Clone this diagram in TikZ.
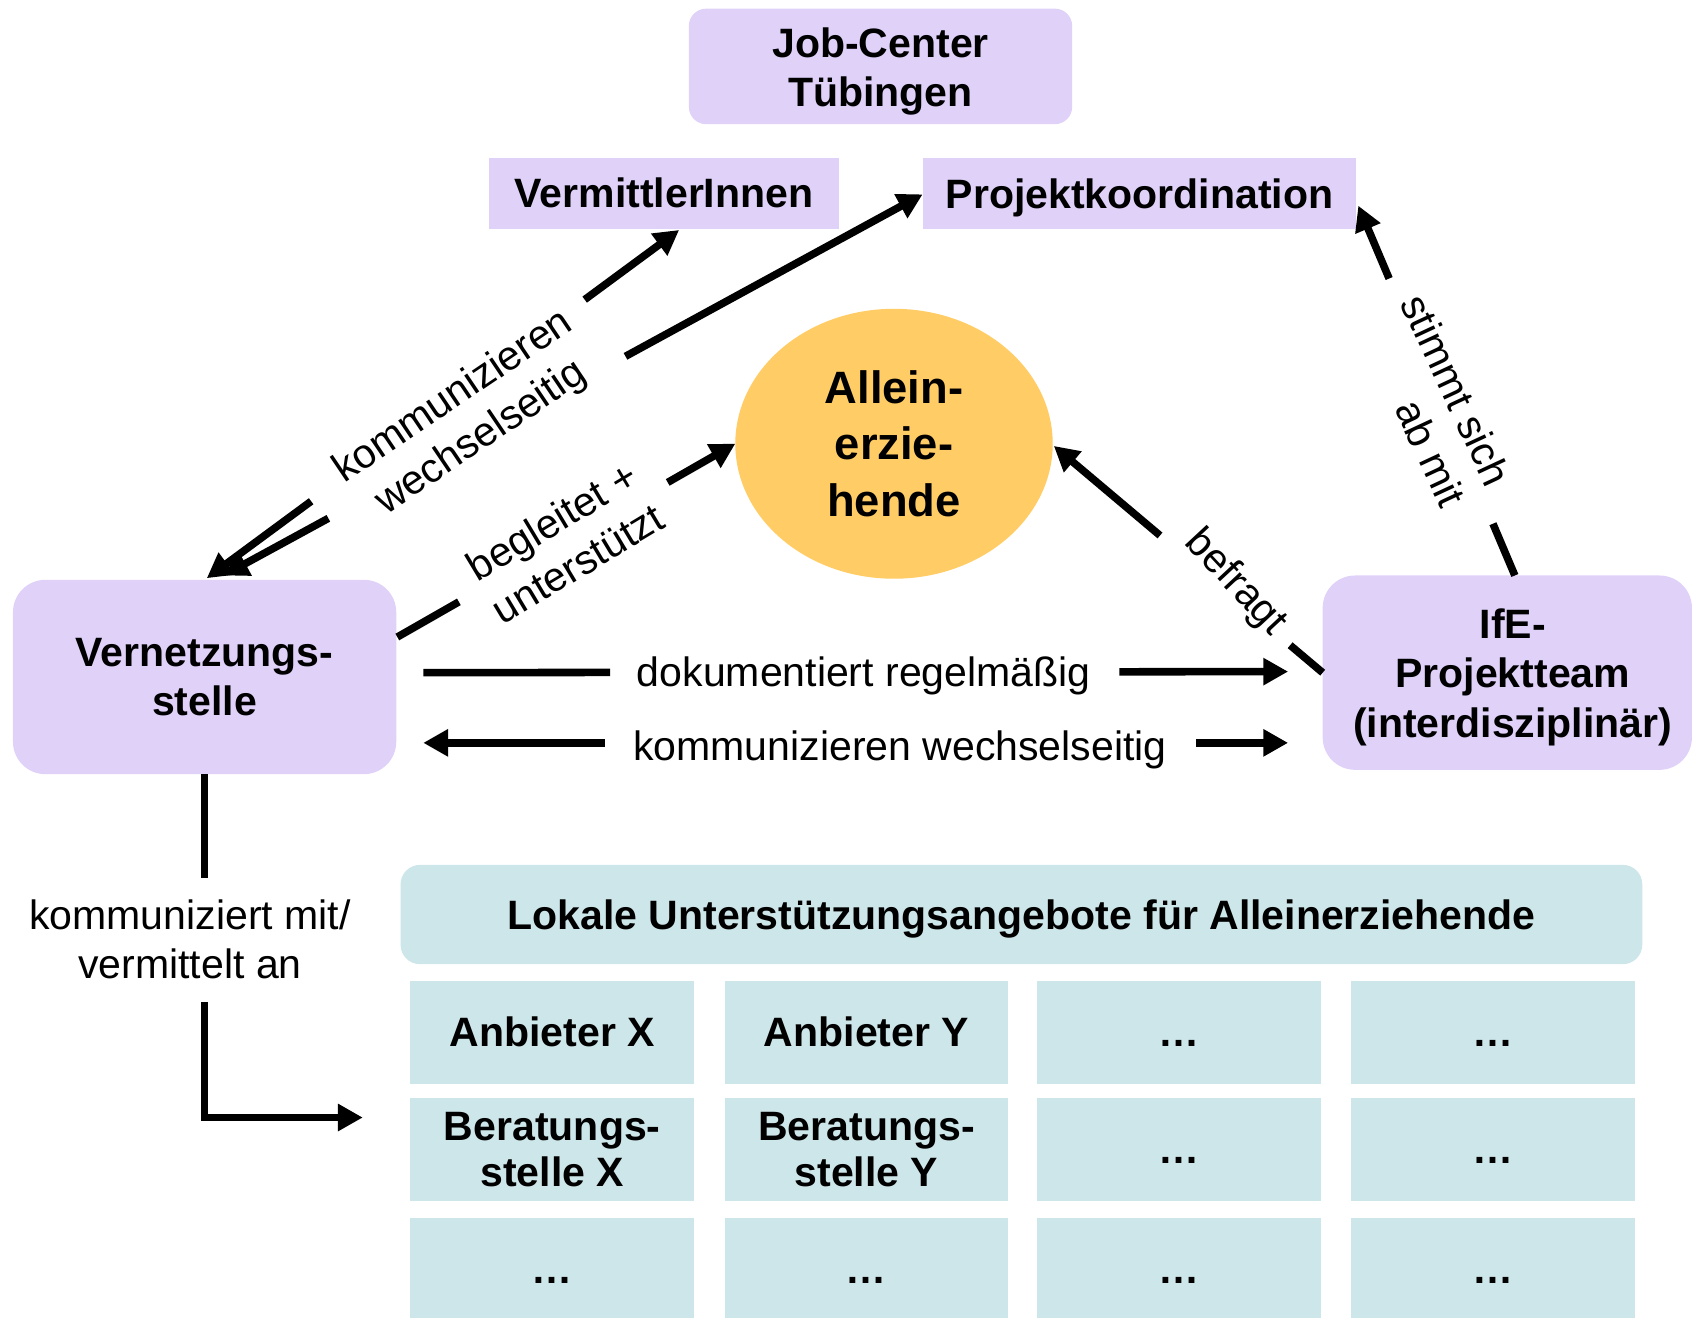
\documentclass[tikz,border=0pt]{standalone}
\usepackage{fontspec}
\setmainfont{Liberation Sans}
\usetikzlibrary{arrows.meta,calc,shapes.geometric}
\definecolor{lav}{RGB}{224,209,249}
\definecolor{tealc}{RGB}{205,230,233}
\definecolor{orng}{RGB}{255,204,102}
\begin{document}
\begin{tikzpicture}[x=0.5pt,y=-0.5pt,
  box/.style={fill=lav,draw=none,inner sep=0pt,outer sep=0pt,align=center,font=\fontsize{19}{23}\selectfont\bfseries},
  capc/.style={text height=13.6pt,text depth=0pt},
  cell/.style={fill=tealc,inner sep=0pt,outer sep=0pt,minimum width=131.5pt,minimum height=47.5pt,align=center,font=\fontsize{19}{21.5}\selectfont\bfseries},
  lbl/.style={inner sep=0pt,outer sep=0pt,align=center,font=\fontsize{19}{23}\selectfont},
  ln/.style={line width=3.5pt},
  arr/.style={line width=3.5pt,-{Triangle[length=11.5pt,width=12pt]}},
  rarr/.style={line width=3.5pt,{Triangle[length=11.5pt,width=12pt]}-},
]
\useasboundingbox (0,0) rectangle (1568,1220);

% nodes
\node[box,rounded corners=8pt,minimum width=177.5pt,minimum height=53.5pt] (JC) at (815.5,61.5) {\rule{0pt}{18.4pt}Job-Center\\Tübingen};
\node[box,capc,minimum width=162pt,minimum height=33pt] (VM) at (615,179) {VermittlerInnen};
\node[box,capc,minimum width=200.5pt,minimum height=33pt] (PK) at (1055.5,179.5) {Projektkoordination};
\node[ellipse,fill=orng,minimum width=147pt,minimum height=125pt,inner sep=0pt,outer sep=0pt,align=center,font=\fontsize{21}{26}\selectfont\bfseries] (AL) at (828,411) {Allein-\\erzie-\\hende};
\node[box,rounded corners=15pt,minimum width=177.5pt,minimum height=90pt] (V) at (189.5,627) {Vernetzungs-\\stelle};
\node[box,rounded corners=15pt,minimum width=171pt,minimum height=90pt] (I) at (1396,623) {\hspace*{5pt}\rule{0pt}{17.9pt}IfE-\\\hspace*{5pt}Projektteam\\\hspace*{5pt}(interdisziplinär)};
\node[box,capc,fill=tealc,rounded corners=9pt,minimum width=575pt,minimum height=46pt] (LU) at (946,847) {Lokale Unterstützungsangebote für Alleinerziehende};

% grid
\node[cell] (c11) at (511.5,956) {\vphantom{A}Anbieter X};
\node[cell] (c12) at (802.5,956) {\vphantom{A}Anbieter Y};
\node[cell] (c13) at (1091.5,956) {\vphantom{A}…};
\node[cell] (c14) at (1383,956) {\vphantom{A}…};
\node[cell] (c21) at (511.5,1064.5) {Beratungs-\\stelle X};
\node[cell] (c22) at (802.5,1064.5) {Beratungs-\\stelle Y};
\node[cell] (c23) at (1091.5,1064.5) {\vphantom{A}…};
\node[cell] (c24) at (1383,1064.5) {\vphantom{A}…};
\node[cell] (c31) at (511.5,1176) {\vphantom{A}…};
\node[cell] (c32) at (802.5,1176) {\vphantom{A}…};
\node[cell] (c33) at (1091.5,1176) {\vphantom{A}…};
\node[cell] (c34) at (1383,1176) {\vphantom{A}…};

% connector endpoints
\coordinate (As) at ($(V.north)+(2,-1.5)$);
\coordinate (Ae) at ($(VM.south)+(14,1)$);
\coordinate (Bs) at ($(V.north)+(17.5,-4)$);
\coordinate (Be) at ($(PK.west)+(-0.5,0.5)$);
\coordinate (Cs) at ($(V.east)+(1,-37)$);
\coordinate (Ce) at (AL.west);
\coordinate (Ds) at (I.west);
\coordinate (De) at ($(AL.east)+(1,2)$);
\coordinate (Es) at ($(I.north)+(7,0)$);
\coordinate (Ee) at ($(PK.east)+(2,11)$);
\coordinate (Fs) at ($(V.east)+(25,-4)$);
\coordinate (Fe) at ($(I.west)+(-32,-1)$);
\coordinate (Gs) at ($(V.east)+(25,61)$);
\coordinate (Ge) at ($(I.west)+(-32,65)$);
\coordinate (Hm) at ($(V.south)+(0,96)$);
\coordinate (Hb) at ($(V.south)+(0,211)$);
\coordinate (He) at ($(c21.west)+(-44,-29.5)$);

% A: Vernetzungsstelle <-> VermittlerInnen
\draw[rarr] (As) -- ($(As)!0.221!(Ae)$);
\draw[arr] ($(As)!0.80!(Ae)$) -- (Ae);
% B: Vernetzungsstelle <-> Projektkoordination
\draw[rarr] (Bs) -- ($(Bs)!0.15!(Be)$);
\draw[arr] ($(Bs)!0.575!(Be)$) -- (Be);
\node[lbl,rotate=34] (LA) at (433,387) {kommunizieren\\wechselseitig};
% C: Vernetzungsstelle -> Alleinerziehende
\draw[ln] (Cs) -- ($(Cs)!0.182!(Ce)$);
\draw[arr] ($(Cs)!0.80!(Ce)$) -- (Ce);
\node[lbl,rotate=31] (LC) at (523,502) {begleitet +\\unterstützt};
% D: IfE -> Alleinerziehende
\draw[ln] (Ds) -- ($(Ds)!0.121!(De)$);
\draw[arr] ($(Ds)!0.605!(De)$) -- (De);
\node[lbl,rotate=-47] (LD) at (1144,540) {befragt};
% E: IfE -> Projektkoordination
\draw[ln] (Es) -- ($(Es)!0.14!(Ee)$);
\draw[arr] ($(Es)!0.803!(Ee)$) -- (Ee);
\node[lbl,align=right,rotate=-65] (LE) at (1328,371) {stimmt sich\\ab mit};
% F: dokumentiert
\draw[ln] (Fs) -- ($(Fs)!0.216!(Fe)$);
\draw[arr] ($(Fs)!0.805!(Fe)$) -- (Fe);
\node[lbl,capc] (LF) at (800,622.5) {dokumentiert regelmäßig};
% G: kommunizieren wechselseitig
\draw[rarr] (Gs) -- ($(Gs)!0.21!(Ge)$);
\draw[arr] ($(Gs)!0.894!(Ge)$) -- (Ge);
\node[lbl,capc] (LG) at (833.5,690.5) {kommunizieren wechselseitig};
% H: Vernetzungsstelle -> Angebote
\draw[ln] (V.south) -- (Hm);
\draw[arr] (Hb) |- (He);
\node[lbl] (LH) at (176,870) {kommuniziert mit/\\vermittelt an};
\end{tikzpicture}
\end{document}
